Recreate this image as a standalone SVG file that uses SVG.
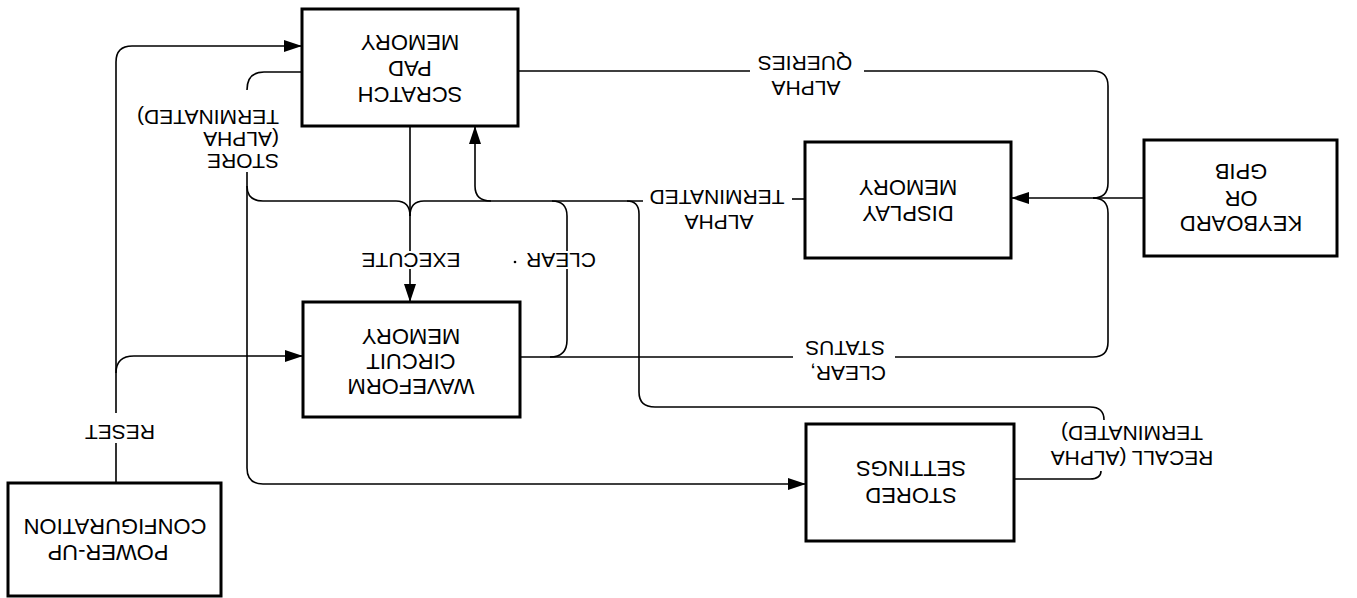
<svg xmlns="http://www.w3.org/2000/svg" width="1357" height="598" viewBox="0 0 1357 598">
<defs>
<style>
.box{fill:#fff;stroke:#000;stroke-width:3}
.ln{fill:none;stroke:#000;stroke-width:1.6}
.bt{font-family:"Liberation Sans",Arial,sans-serif;font-size:22px;fill:#000;text-anchor:middle}
.lt{font-family:"Liberation Sans",Arial,sans-serif;font-size:21px;fill:#000;text-anchor:middle}
.ls{font-family:"Liberation Sans",Arial,sans-serif;font-size:21px;fill:#000;text-anchor:start}
</style>
<marker id="ah" viewBox="0 0 18 12" refX="18" refY="6" markerWidth="18" markerHeight="12" markerUnits="userSpaceOnUse" orient="auto">
<path d="M0,0 L18,6 L0,12 Z" fill="#000"/>
</marker>
</defs>
<rect width="1357" height="598" fill="#fff"/>
<g id="connectors">
<path class="ln" d="M116,483 V443 M116,413 V62 Q116,46 132,46 H302" marker-end="url(#ah)"/>
<path class="ln" d="M116,373 Q116,356 134,356 H303" marker-end="url(#ah)"/>
<path class="ln" d="M302,72 H264 Q247,72 247,90"/>
<path class="ln" d="M247,172 V468 Q247,484 263,484 H806" marker-end="url(#ah)"/>
<path class="ln" d="M247,186 Q247,201 263,201 H396 Q410,201 410,216"/>
<path class="ln" d="M410,126 V251 M410,269 V302" marker-end="url(#ah)"/>
<path class="ln" d="M643,201 H424 Q410,201 410,216"/>
<path class="ln" d="M491,201 Q475,201 475,186 V126" marker-end="url(#ah)"/>
<path class="ln" d="M552,201 Q567,201 567,216 V251 M567,269 V340 Q567,357 550,357"/>
<path class="ln" d="M520,357 H793 M895,357 H1093 Q1108,357 1108,342 V213 Q1108,198 1093,198"/>
<path class="ln" d="M518,71 H750 M864,71 H1093 Q1108,71 1108,86 V183 Q1108,198 1093,198"/>
<path class="ln" d="M1144,198 H1011" marker-end="url(#ah)"/>
<path class="ln" d="M805,199 H792"/>
<path class="ln" d="M627,201 Q639,201 639,214 V392 Q639,407 655,407 H1090 Q1104,407 1104,420"/>
<path class="ln" d="M1101,471 Q1101,479 1090,479 H1014"/>
<circle cx="515" cy="262" r="1.3" fill="#000"/>
</g>
<g id="connector-labels">
<text class="ls" x="279" y="124.5" transform="rotate(180 279 117)">TERMINATED)</text>
<text class="ls" x="279" y="146.5" transform="rotate(180 279 139)">(ALPHA</text>
<text class="ls" x="279" y="168.5" transform="rotate(180 279 161)">STORE</text>
<text class="lt" x="805" y="70.5" transform="rotate(180 805 63)">QUERIES</text>
<text class="lt" x="806" y="95.5" transform="rotate(180 806 88)">ALPHA</text>
<text class="lt" x="717" y="204.5" transform="rotate(180 717 197)">TERMINATED</text>
<text class="lt" x="719" y="229.5" transform="rotate(180 719 222)">ALPHA</text>
<text class="lt" x="845" y="355.5" transform="rotate(180 845 348)">STATUS</text>
<text class="lt" x="848" y="380.5" transform="rotate(180 848 373)">CLEAR,</text>
<text class="lt" x="1132" y="440.5" transform="rotate(180 1132 433)">TERMINATED)</text>
<text class="lt" x="1132" y="465.5" transform="rotate(180 1132 458)">RECALL (ALPHA</text>
<text class="lt" x="120" y="439.5" transform="rotate(180 120 432)">RESET</text>
<text class="lt" x="411" y="267.5" transform="rotate(180 411 260)">EXECUTE</text>
<text class="lt" x="561" y="267.5" transform="rotate(180 561 260)">CLEAR</text>
</g>
<g id="scratch-pad-memory">
<rect class="box" x="302" y="9" width="216" height="117"/>
<text class="bt" x="410" y="51" transform="rotate(180 410 43)">MEMORY</text>
<text class="bt" x="410" y="77" transform="rotate(180 410 69)">PAD</text>
<text class="bt" x="410" y="103" transform="rotate(180 410 95)">SCRATCH</text>
</g>
<g id="waveform-circuit-memory">
<rect class="box" x="303" y="302" width="217" height="115"/>
<text class="bt" x="411" y="345" transform="rotate(180 411 337)">MEMORY</text>
<text class="bt" x="411" y="370" transform="rotate(180 411 362)">CIRCUIT</text>
<text class="bt" x="411" y="395" transform="rotate(180 411 387)">WAVEFORM</text>
</g>
<g id="display-memory">
<rect class="box" x="805" y="142" width="206" height="116"/>
<text class="bt" x="908" y="196" transform="rotate(180 908 188)">MEMORY</text>
<text class="bt" x="908" y="222" transform="rotate(180 908 214)">DISPLAY</text>
</g>
<g id="keyboard-gpib">
<rect class="box" x="1144" y="140" width="193" height="116"/>
<text class="bt" x="1241" y="180" transform="rotate(180 1241 172)">GPIB</text>
<text class="bt" x="1241" y="207" transform="rotate(180 1241 199)">OR</text>
<text class="bt" x="1241" y="232" transform="rotate(180 1241 224)">KEYBOARD</text>
</g>
<g id="stored-settings">
<rect class="box" x="806" y="424" width="208" height="117"/>
<text class="bt" x="911" y="477" transform="rotate(180 911 469)">SETTINGS</text>
<text class="bt" x="911" y="504" transform="rotate(180 911 496)">STORED</text>
</g>
<g id="power-up-configuration">
<rect class="box" x="8" y="483" width="213" height="113"/>
<text class="bt" x="115" y="535" transform="rotate(180 115 527)">CONFIGURATION</text>
<text class="bt" x="108" y="561" transform="rotate(180 108 553)">POWER-UP</text>
</g>
</svg>
